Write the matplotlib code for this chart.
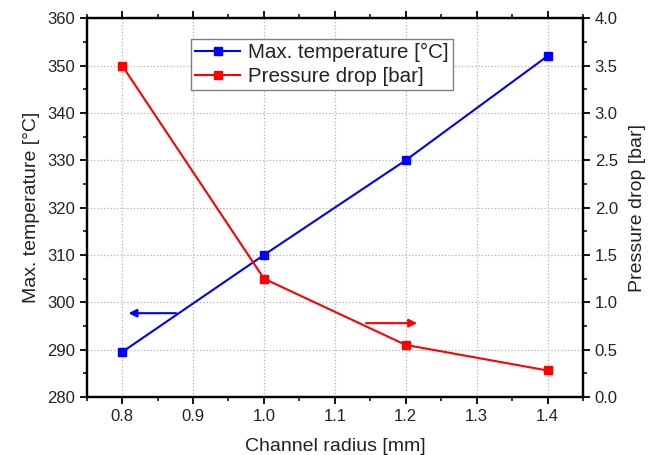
import matplotlib
matplotlib.use('Agg')
import matplotlib.pyplot as plt
from matplotlib.ticker import MultipleLocator

plt.rcParams['font.family'] = ['Liberation Sans', 'DejaVu Sans']

raio = [0.8, 1.0, 1.2, 1.4]
temp_max = [289.5, 310, 330, 352]
queda_pressao = [3.5, 1.25, 0.55, 0.28]

fig = plt.figure(figsize=(6.67, 4.55), dpi=100)
ax = fig.add_axes([0.130, 0.1275, 0.744, 0.8325])
ax2 = ax.twinx()

l1, = ax.plot(raio, temp_max, color='#0000ff', marker='s', markersize=6, lw=1.5,
              label='Max. temperature [°C]')
l2, = ax2.plot(raio, queda_pressao, color='#ff0000', marker='s', markersize=6, lw=1.5,
               label='Pressure drop [bar]')

ax.set_xlim(0.75, 1.45)
ax.set_ylim(280, 360)
ax2.set_ylim(0, 4.0)
ax.xaxis.set_major_locator(MultipleLocator(0.1))
ax.xaxis.set_minor_locator(MultipleLocator(0.05))
ax.yaxis.set_major_locator(MultipleLocator(10))
ax.yaxis.set_minor_locator(MultipleLocator(5))
ax2.yaxis.set_major_locator(MultipleLocator(0.5))
ax2.yaxis.set_minor_locator(MultipleLocator(0.25))
ax.xaxis.set_major_formatter(plt.FormatStrFormatter('%.1f'))
ax2.yaxis.set_major_formatter(plt.FormatStrFormatter('%.1f'))

ax.grid(True, which='major', color='#b0b0b0', linestyle=':', lw=0.9)

for a in (ax, ax2):
    for s in a.spines.values():
        s.set_linewidth(1.6)
    a.tick_params(which='major', direction='out', length=5, width=1.3, labelsize=12,
                  labelcolor='#222222')
    a.tick_params(which='minor', direction='out', length=3, width=1.1)
ax.tick_params(which='both', top=True)

ax.set_xlabel('Channel radius [mm]', fontsize=14, labelpad=10, color='#222222')
ax.set_ylabel('Max. temperature [°C]', fontsize=14, labelpad=5, color='#222222')
ax2.set_ylabel('Pressure drop [bar]', fontsize=14, labelpad=8, color='#222222')

ax.annotate('', xy=(0.805, 297.7), xytext=(0.88, 297.7),
            arrowprops=dict(arrowstyle='-|>', color='#0000ff', lw=1.5, mutation_scale=12))
ax2.annotate('', xy=(1.22, 0.78), xytext=(1.14, 0.78),
             arrowprops=dict(arrowstyle='-|>', color='#ff0000', lw=1.5, mutation_scale=12))

leg = ax2.legend(handles=[l1, l2], loc='upper left', bbox_to_anchor=(0.21, 0.945),
                 fontsize=14.8, fancybox=False, edgecolor='#808080', framealpha=1,
                 borderpad=0.2, handlelength=2.2, handletextpad=0.4, labelspacing=0.25,
                 borderaxespad=0)
leg.get_frame().set_linewidth(1.0)
for t in leg.get_texts():
    t.set_color('#222222')

plt.savefig('out.png', dpi=100)
